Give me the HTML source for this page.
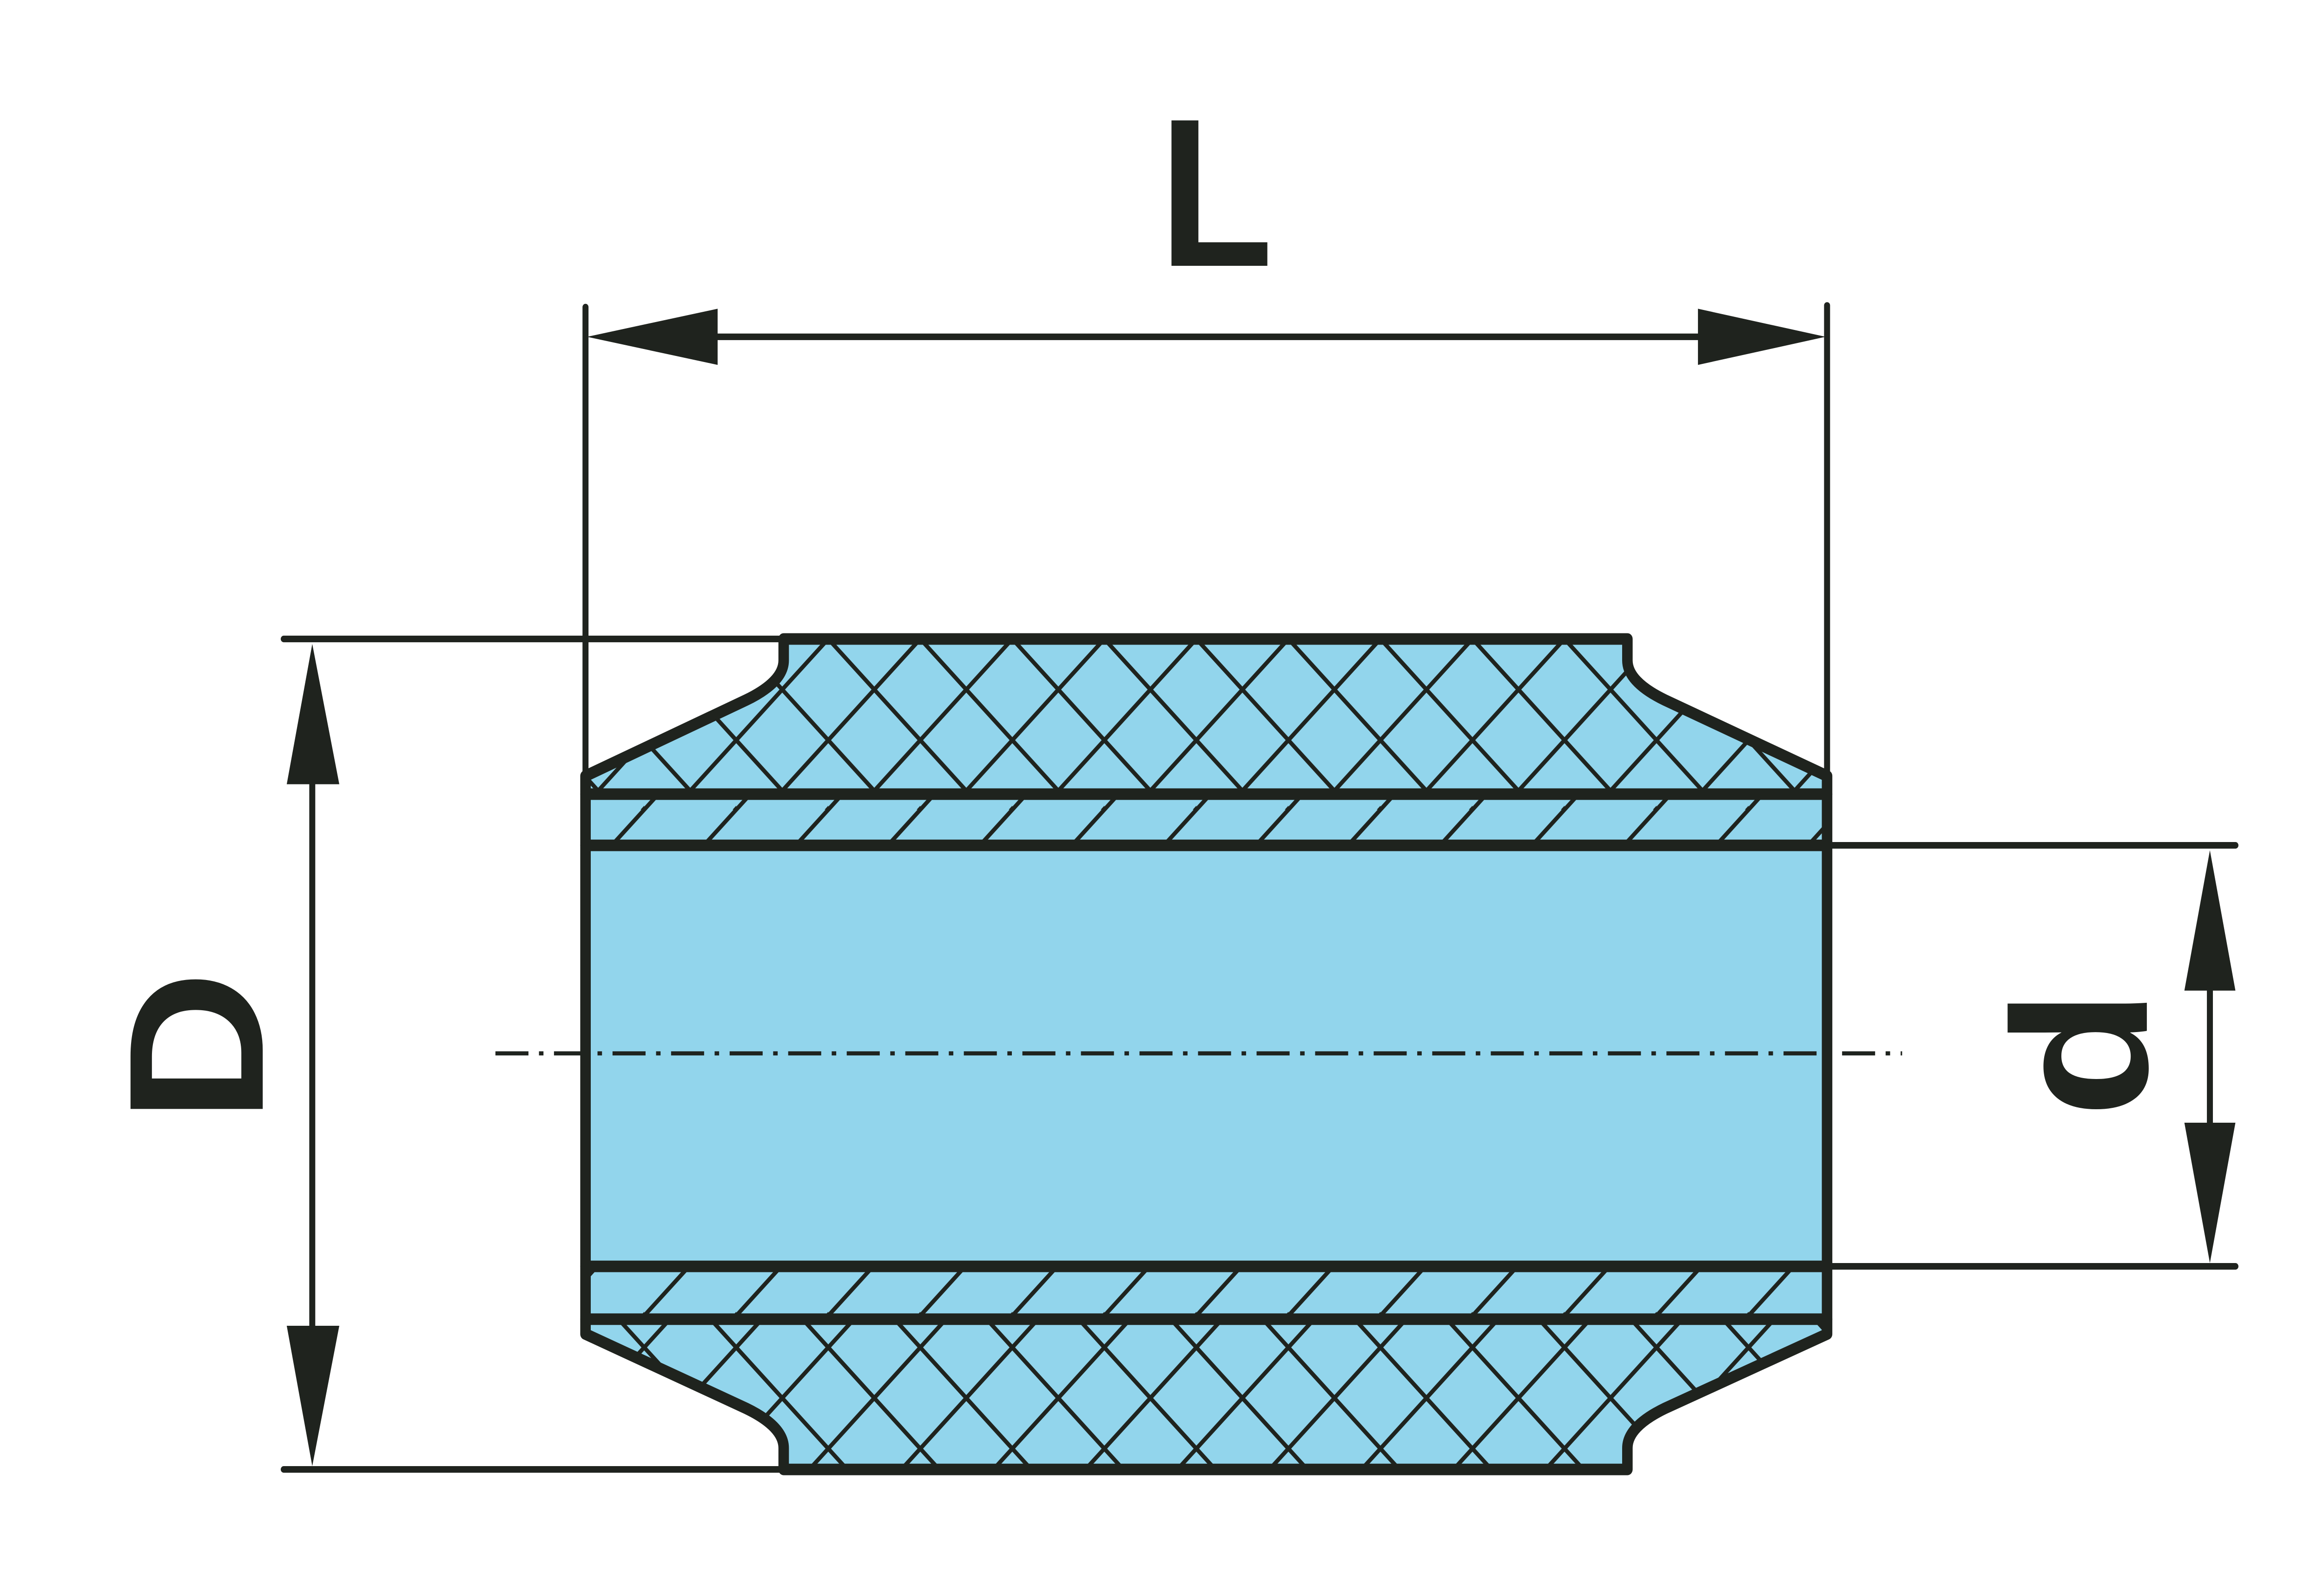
<!DOCTYPE html>
<html><head><meta charset="utf-8"><style>html,body{margin:0;padding:0;background:#fff;width:100%;height:100%;overflow:hidden}svg{display:block;position:fixed;left:0;top:0;width:100%;height:100%}</style></head>
<body>
<svg viewBox="0 0 1548 960.6" preserveAspectRatio="none" xmlns="http://www.w3.org/2000/svg">
<defs>
<pattern id="cross" patternUnits="userSpaceOnUse" x="0" y="387" width="61.3" height="61.3">
<line x1="-5" y1="-5" x2="66.3" y2="66.3" stroke="#1f231e" stroke-width="2.6"/>
<line x1="-5" y1="66.3" x2="66.3" y2="-5" stroke="#1f231e" stroke-width="2.6"/>
</pattern>
<pattern id="single" patternUnits="userSpaceOnUse" x="0" y="0" width="61.3" height="61.3">
<line x1="-5" y1="66.3" x2="66.3" y2="-5" stroke="#1f231e" stroke-width="2.6"/>
<line x1="-35" y1="35" x2="35" y2="-35" stroke="#1f231e" stroke-width="2.6"/>
<line x1="26" y1="96" x2="96" y2="26" stroke="#1f231e" stroke-width="2.6"/>
</pattern>
</defs>
<g stroke="#1f231e" fill="none" stroke-width="4" stroke-linecap="round">
<line x1="390" y1="186" x2="390" y2="470"/>
<line x1="1217" y1="185" x2="1217" y2="470"/>
<line x1="189" y1="387" x2="522" y2="387"/>
<line x1="189" y1="890" x2="522" y2="890"/>
<line x1="1217" y1="512" x2="1489" y2="512"/>
<line x1="1217" y1="767" x2="1489" y2="767"/>
<line x1="470" y1="204" x2="1140" y2="204"/>
<line x1="208" y1="470" x2="208" y2="810"/>
<line x1="1472" y1="595" x2="1472" y2="685"/>
</g>
<g fill="#1f231e">
<polygon points="391,204 478,187 478,221"/>
<polygon points="1216,204 1131,187 1131,221"/>
<polygon points="208,390 191,475 226,475"/>
<polygon points="208,888 191,803 226,803"/>
<polygon points="1472,515 1455,600 1489,600"/>
<polygon points="1472,765 1455,680 1489,680"/>
</g>
<rect x="390" y="481" width="827" height="318" fill="#92d5ec"/>
<path d="M390,470 L497,424 Q522,413 522,400 L522,387 L1084,387 L1084,400 Q1084,413 1109,424 L1217,470 L1217,481 L390,481 Z" fill="#92d5ec"/>
<path d="M390,470 L497,424 Q522,413 522,400 L522,387 L1084,387 L1084,400 Q1084,413 1109,424 L1217,470 L1217,481 L390,481 Z" fill="url(#cross)"/>
<path d="M390,808 L497,853 Q522,864 522,877 L522,890 L1084,890 L1084,877 Q1084,864 1109,853 L1217,808 L1217,799 L390,799 Z" fill="#92d5ec"/>
<path d="M390,808 L497,853 Q522,864 522,877 L522,890 L1084,890 L1084,877 Q1084,864 1109,853 L1217,808 L1217,799 L390,799 Z" fill="url(#cross)"/>
<rect x="390" y="481" width="827" height="31" fill="url(#single)"/>
<rect x="390" y="767" width="827" height="32" fill="url(#single)"/>
<g stroke="#1f231e" fill="none" stroke-width="7" stroke-linejoin="round" stroke-linecap="round">
<path d="M390,808 L390,470 L497,424 Q522,413 522,400 L522,387 L1084,387 L1084,400 Q1084,413 1109,424 L1217,470 L1217,808 L1109,853 Q1084,864 1084,877 L1084,890 L522,890 L522,877 Q522,864 497,853 Z"/>
<line x1="390" y1="481" x2="1217" y2="481"/>
<line x1="390" y1="512" x2="1217" y2="512"/>
<line x1="390" y1="767" x2="1217" y2="767"/>
<line x1="390" y1="799" x2="1217" y2="799"/>
</g>
<line x1="330" y1="638" x2="1267" y2="638" stroke="#1f231e" stroke-width="2.5" stroke-dasharray="22,7,3,7"/>
<g fill="#1f231e" font-family="Liberation Sans, sans-serif" font-weight="bold">
<text x="772" y="161" font-size="128" textLength="76" lengthAdjust="spacingAndGlyphs">L</text>
<text transform="translate(175,634) rotate(-90)" font-size="128" text-anchor="middle">D</text>
<text transform="translate(1430,638) rotate(-90)" font-size="128" text-anchor="middle">d</text>
</g>
</svg>
</body></html>
